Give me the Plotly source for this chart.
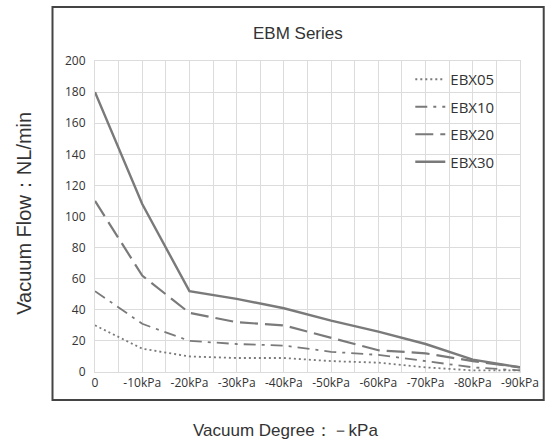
import plotly.graph_objects as go

x_vals = [0, 10, 20, 30, 40, 50, 60, 70, 80, 90]
x_labels = ["0", "-10kPa", "-20kPa", "-30kPa", "-40kPa", "-50kPa", "-60kPa", "-70kPa", "-80kPa", "-90kPa"]

ebx05 = [30, 15, 10, 9, 9, 7, 6, 3, 1, 1]
ebx10 = [52, 31, 20, 18, 17, 13, 11, 7, 3, 1]
ebx20 = [110, 62, 38, 32, 30, 22, 14, 12, 7, 3]
ebx30 = [180, 108, 52, 47, 41, 33, 26, 18, 8, 3]

series_names = ["EBX05", "EBX10", "EBX20", "EBX30"]
series_vals = [ebx05, ebx10, ebx20, ebx30]
dashes = ["2px,3px", "12px,6px,3px,6px", "18px,7px", "solid"]
widths = [1.8, 1.8, 2.2, 2.4]
color = "#7a7a7a"

fig = go.Figure()
for name, vals, d, w in zip(series_names, series_vals, dashes, widths):
    fig.add_trace(go.Scatter(x=x_vals, y=vals, mode="lines", name=name,
                             legendgroup=name,
                             line=dict(color=color, width=w, dash=d)))

L, R, T, B = 95, 26, 61, 70
W, H = 551, 442
pw, ph = W - L - R, H - T - B

def px_x(p):
    return (p - L) / pw

def px_y(p):
    return (H - B - p) / ph

fig.update_layout(
    width=W, height=H,
    margin=dict(l=L, r=R, t=T, b=B),
    paper_bgcolor="white", plot_bgcolor="white",
    showlegend=True,
    legend=dict(x=px_x(414), y=px_y(63), xanchor="left", yanchor="top",
                bgcolor="rgba(0,0,0,0)", tracegroupgap=5,
                font=dict(family="Open Sans", size=15, color="#333"),
                traceorder="grouped"),
    xaxis=dict(range=[0, 90], tickvals=x_vals, ticktext=x_labels,
               showgrid=True, gridcolor="#dcdcdc", gridwidth=1,
               minor=dict(dtick=5, showgrid=True, gridcolor="#dcdcdc"),
               showline=True, linecolor="#dcdcdc", mirror=True,
               zeroline=False, ticks="",
               tickfont=dict(family="Open Sans", size=12, color="#333")),
    yaxis=dict(range=[0, 200], dtick=20,
               showgrid=True, gridcolor="#dcdcdc", gridwidth=1,
               showline=True, linecolor="#dcdcdc", mirror=True,
               zeroline=False, ticks="", ticklabelstandoff=6,
               tickfont=dict(family="Open Sans", size=12, color="#333")),
    annotations=[
        dict(text="EBM Series", xref="paper", yref="paper",
             x=px_x(300), y=px_y(33), xanchor="center", yanchor="middle",
             showarrow=False,
             font=dict(family="Liberation Sans", size=17, color="#333")),
        dict(text="Vacuum Flow：NL/min", xref="paper", yref="paper",
             x=px_x(23), y=px_y(213), xanchor="center", yanchor="middle",
             showarrow=False, textangle=-90,
             font=dict(family="Liberation Sans", size=20, color="#333")),
        dict(text="Vacuum Degree：－kPa", xref="paper", yref="paper",
             x=px_x(288), y=px_y(430), xanchor="center", yanchor="middle",
             showarrow=False,
             font=dict(family="Liberation Sans", size=17, color="#333")),
    ],
    shapes=[
        dict(type="rect", xref="paper", yref="paper",
             x0=px_x(52), x1=px_x(549), y0=px_y(400), y1=px_y(7),
             line=dict(color="#444", width=2), fillcolor="rgba(0,0,0,0)",
             layer="above"),
    ],
)

fig.write_html("out.html")
